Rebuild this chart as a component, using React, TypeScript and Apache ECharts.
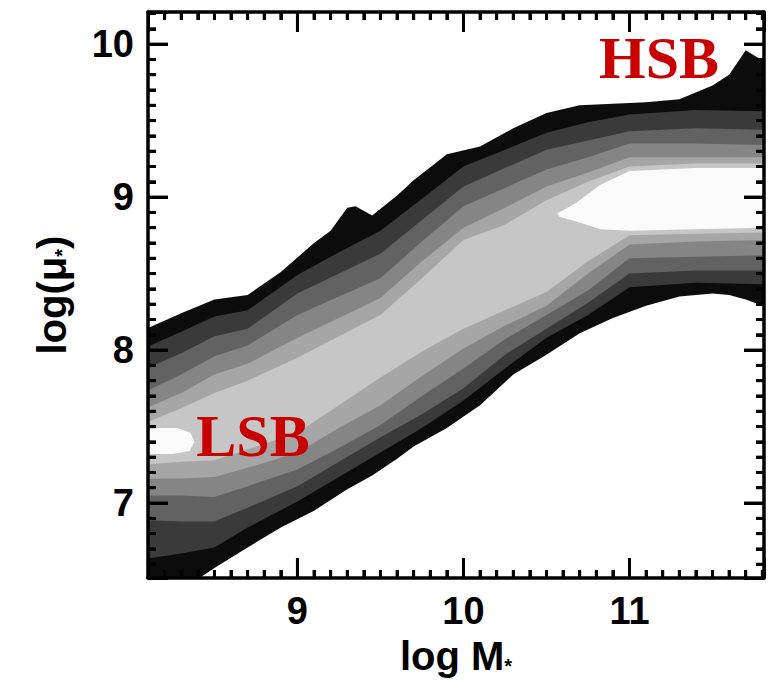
import React, { useEffect, useRef } from 'react';
import * as echarts from 'echarts';

// Axis ranges and tick labels
const X_MIN = 8.1;
const X_MAX = 11.81;
const Y_MIN = 6.51;
const Y_MAX = 10.21;
const xTickLabels = [9, 10, 11];
const yTickLabels = [7, 8, 9, 10];

// Outermost contour (black)
const xsOuter = [8.05, 8.3, 8.5, 8.7, 8.9, 9.1, 9.2, 9.3, 9.35, 9.45, 9.6, 9.7, 9.9, 10.1, 10.3, 10.5, 10.7, 10.9, 11.1, 11.3, 11.5, 11.6, 11.7, 11.85];
const outerUpper = [8.12, 8.24, 8.33, 8.36, 8.51, 8.7, 8.78, 8.93, 8.94, 8.88, 9.01, 9.11, 9.28, 9.33, 9.45, 9.55, 9.6, 9.61, 9.62, 9.64, 9.73, 9.8, 9.96, 9.86];
const outerLower = [6.37, 6.43, 6.575, 6.71, 6.84, 6.95, 7.02, 7.09, 7.12, 7.18, 7.29, 7.37, 7.49, 7.64, 7.84, 7.97, 8.11, 8.21, 8.29, 8.35, 8.37, 8.36, 8.33, 8.27];

// Inner contour levels (upper and lower edges)
const xsInner = [8.05, 8.3, 8.5, 8.7, 9.0, 9.25, 9.5, 9.75, 10.0, 10.25, 10.5, 10.75, 11.0, 11.4, 11.85];
const upper2 = [8.0, 8.12, 8.22, 8.26, 8.49, 8.64, 8.78, 8.99, 9.2, 9.31, 9.42, 9.49, 9.54, 9.57, 9.56];
const upper3 = [7.86, 7.98, 8.09, 8.14, 8.37, 8.5, 8.63, 8.85, 9.07, 9.19, 9.31, 9.37, 9.43, 9.45, 9.44];
const upper4 = [7.71, 7.84, 7.96, 8.03, 8.23, 8.35, 8.47, 8.71, 8.94, 9.06, 9.18, 9.26, 9.35, 9.35, 9.34];
const upper5 = [7.6, 7.72, 7.84, 7.91, 8.08, 8.21, 8.34, 8.58, 8.8, 8.93, 9.07, 9.16, 9.26, 9.26, 9.26];
const upper6 = [7.51, 7.62, 7.72, 7.8, 7.95, 8.09, 8.23, 8.47, 8.72, 8.82, 8.98, 9.1, 9.2, 9.22, 9.22];
const lower6 = [7.25, 7.27, 7.28, 7.35, 7.46, 7.64, 7.82, 7.99, 8.14, 8.26, 8.38, 8.58, 8.75, 8.76, 8.77];
const lower5 = [7.16, 7.16, 7.17, 7.23, 7.33, 7.49, 7.64, 7.83, 8.01, 8.16, 8.29, 8.5, 8.69, 8.71, 8.72];
const lower4 = [7.05, 7.05, 7.04, 7.11, 7.22, 7.36, 7.51, 7.7, 7.88, 8.07, 8.23, 8.39, 8.6, 8.61, 8.62];
const lower3 = [6.89, 6.88, 6.88, 6.97, 7.11, 7.27, 7.43, 7.58, 7.75, 7.97, 8.14, 8.31, 8.5, 8.52, 8.52];
const lower2 = [6.63, 6.67, 6.71, 6.84, 7.01, 7.17, 7.33, 7.49, 7.67, 7.88, 8.08, 8.23, 8.41, 8.44, 8.43];

// Density peaks (white)
const lsbPeak: [number, number][] = [[8.05, 7.48], [8.175, 7.49], [8.28, 7.49], [8.355, 7.46], [8.38, 7.4], [8.35, 7.34], [8.25, 7.32], [8.05, 7.32]];
const hsbPeak: [number, number][] = [[10.566, 8.895], [10.675, 8.96], [10.825, 9.08], [11.0, 9.17], [11.4, 9.19], [11.85, 9.19], [11.85, 8.8], [11.4, 8.79], [11.0, 8.78], [10.825, 8.79], [10.68, 8.84], [10.58, 8.87]];

const levelColors = ['#0c0c0c', '#3a3a3a', '#626262', '#858585', '#a6a6a6', '#c6c6c6', '#fbfbfb', '#fbfbfb'];

function band(xs: number[], up: number[], lo: number[]): [number, number][] {
  const top = xs.map((x, i) => [x, up[i]] as [number, number]);
  const bot = xs.map((x, i) => [x, lo[i]] as [number, number]).reverse();
  return top.concat(bot);
}

const polygons: [number, number][][] = [
  band(xsOuter, outerUpper, outerLower),
  band(xsInner, upper2, lower2),
  band(xsInner, upper3, lower3),
  band(xsInner, upper4, lower4),
  band(xsInner, upper5, lower5),
  band(xsInner, upper6, lower6),
  lsbPeak,
  hsbPeak,
];

// Tick positions (every 0.1; integers are major)
const xTickValues: number[] = [];
for (let i = 82; i <= 118; i++) xTickValues.push(i / 10);
const yTickValues: number[] = [];
for (let i = 66; i <= 102; i++) yTickValues.push(i / 10);

const FONT = "'Liberation Sans', Arial, Helvetica, sans-serif";
const SERIF = "'Liberation Serif', 'Times New Roman', serif";
const MAJOR_LEN = 20;
const MINOR_LEN = 8;
const TICK_W = 3;

function isMajor(v: number) {
  return Math.abs(v - Math.round(v)) < 1e-6;
}

type Item =
  | { kind: 'poly'; pts: [number, number][]; color: string }
  | { kind: 'tick'; anchor: [number, number]; dx: number; dy: number; len: number };

// One list of marks: contour bands first, then the frame's tick marks on top
const items: Item[] = [];
polygons.forEach((pts, k) => items.push({ kind: 'poly', pts, color: levelColors[k] }));
xTickValues.forEach((v) => {
  const len = isMajor(v) ? MAJOR_LEN : MINOR_LEN;
  items.push({ kind: 'tick', anchor: [v, Y_MIN], dx: 0, dy: -1, len });
  items.push({ kind: 'tick', anchor: [v, Y_MAX], dx: 0, dy: 1, len });
});
yTickValues.forEach((v) => {
  const len = isMajor(v) ? MAJOR_LEN : MINOR_LEN;
  items.push({ kind: 'tick', anchor: [X_MIN, v], dx: 1, dy: 0, len });
  items.push({ kind: 'tick', anchor: [X_MAX, v], dx: -1, dy: 0, len });
});

function labelFormatter(list: number[]) {
  return (v: number) => {
    const hit = list.find((t) => Math.abs(t - v) < 1e-6);
    return hit === undefined ? '' : String(hit);
  };
}

function axisBase(min: number, max: number, position: string, labels: number[] | null, extra: any = {}) {
  return {
    type: 'value', min, max, position, z: 10,
    axisLine: { show: true, onZero: false, lineStyle: { color: '#000', width: 3.5 } },
    axisTick: { show: true, inside: true, length: MAJOR_LEN, lineStyle: { color: '#000', width: TICK_W } },
    minorTick: { show: true, splitNumber: 10, length: MINOR_LEN, lineStyle: { color: '#000', width: TICK_W } },
    axisLabel: labels
      ? { show: true, formatter: labelFormatter(labels), showMinLabel: false, showMaxLabel: false, fontSize: 38, fontWeight: 'bold', fontFamily: FONT, color: '#000', margin: 14 }
      : { show: false },
    splitLine: { show: false },
    ...extra,
  };
}

export default function App() {
  const ref = useRef<HTMLDivElement>(null);
  useEffect(() => {
    if (!ref.current) return;
    const chart = echarts.init(ref.current, undefined, { renderer: 'svg' });
    const nameRich = {
      a: { fontSize: 40, fontWeight: 'bold', fontFamily: FONT, color: '#000', lineHeight: 40 },
      s: { fontSize: 20, fontWeight: 'bold', fontFamily: FONT, color: '#000', verticalAlign: 'bottom', lineHeight: 20 },
    };
    const marksSeries = {
      type: 'custom',
      name: 'density',
      coordinateSystem: 'cartesian2d',
      xAxisIndex: 0,
      yAxisIndex: 0,
      clip: true,
      silent: true,
      z: 1,
      data: items.map((it) => (it.kind === 'poly' ? it.pts[0] : it.anchor)),
      renderItem: (params: any, api: any) => {
        const it = items[params.dataIndex];
        if (it.kind === 'poly') {
          return {
            type: 'polygon',
            shape: { points: it.pts.map((p) => api.coord(p)) },
            style: { fill: it.color },
          };
        }
        const c = api.coord(it.anchor);
        const h = TICK_W / 2;
        let pts: number[][];
        if (it.dx === 0) {
          const y2 = c[1] + it.dy * it.len;
          pts = [[c[0] - h, c[1]], [c[0] + h, c[1]], [c[0] + h, y2], [c[0] - h, y2]];
        } else {
          const x2 = c[0] + it.dx * it.len;
          pts = [[c[0], c[1] - h], [c[0], c[1] + h], [x2, c[1] + h], [x2, c[1] - h]];
        }
        return { type: 'polygon', shape: { points: pts }, style: { fill: '#000' } };
      },
    };
    const option: any = {
      animation: false,
      backgroundColor: '#ffffff',
      grid: { left: 148, right: 5, top: 12, bottom: 108, containLabel: false },
      xAxis: [
        axisBase(X_MIN, X_MAX, 'bottom', xTickLabels, {
          name: '{a|log M}{s|*}',
          nameLocation: 'middle',
          nameGap: 58,
          nameTextStyle: { rich: nameRich },
        }),
        axisBase(X_MIN, X_MAX, 'top', null),
      ],
      yAxis: [
        axisBase(Y_MIN, Y_MAX, 'left', yTickLabels, {
          name: '{a|log(μ}{s|*}{a|)}',
          nameLocation: 'middle',
          nameGap: 76,
          nameTextStyle: { rich: nameRich },
        }),
        axisBase(Y_MIN, Y_MAX, 'right', null),
      ],
      series: [marksSeries],
      graphic: [
        {
          type: 'text', x: 659, y: 58, z: 100,
          style: { text: 'HSB', fontSize: 60, fontWeight: 'bold', fontFamily: SERIF, fill: '#c80000', align: 'center', verticalAlign: 'middle' },
        },
        {
          type: 'text', x: 253, y: 436, z: 100,
          style: { text: 'LSB', fontSize: 60, fontWeight: 'bold', fontFamily: SERIF, fill: '#c80000', align: 'center', verticalAlign: 'middle' },
        },
      ],
    };
    chart.setOption(option);
    return () => chart.dispose();
  }, []);
  return <div ref={ref} style={{ position: 'fixed', left: 0, top: 0, width: 769, height: 686 }} />;
}
